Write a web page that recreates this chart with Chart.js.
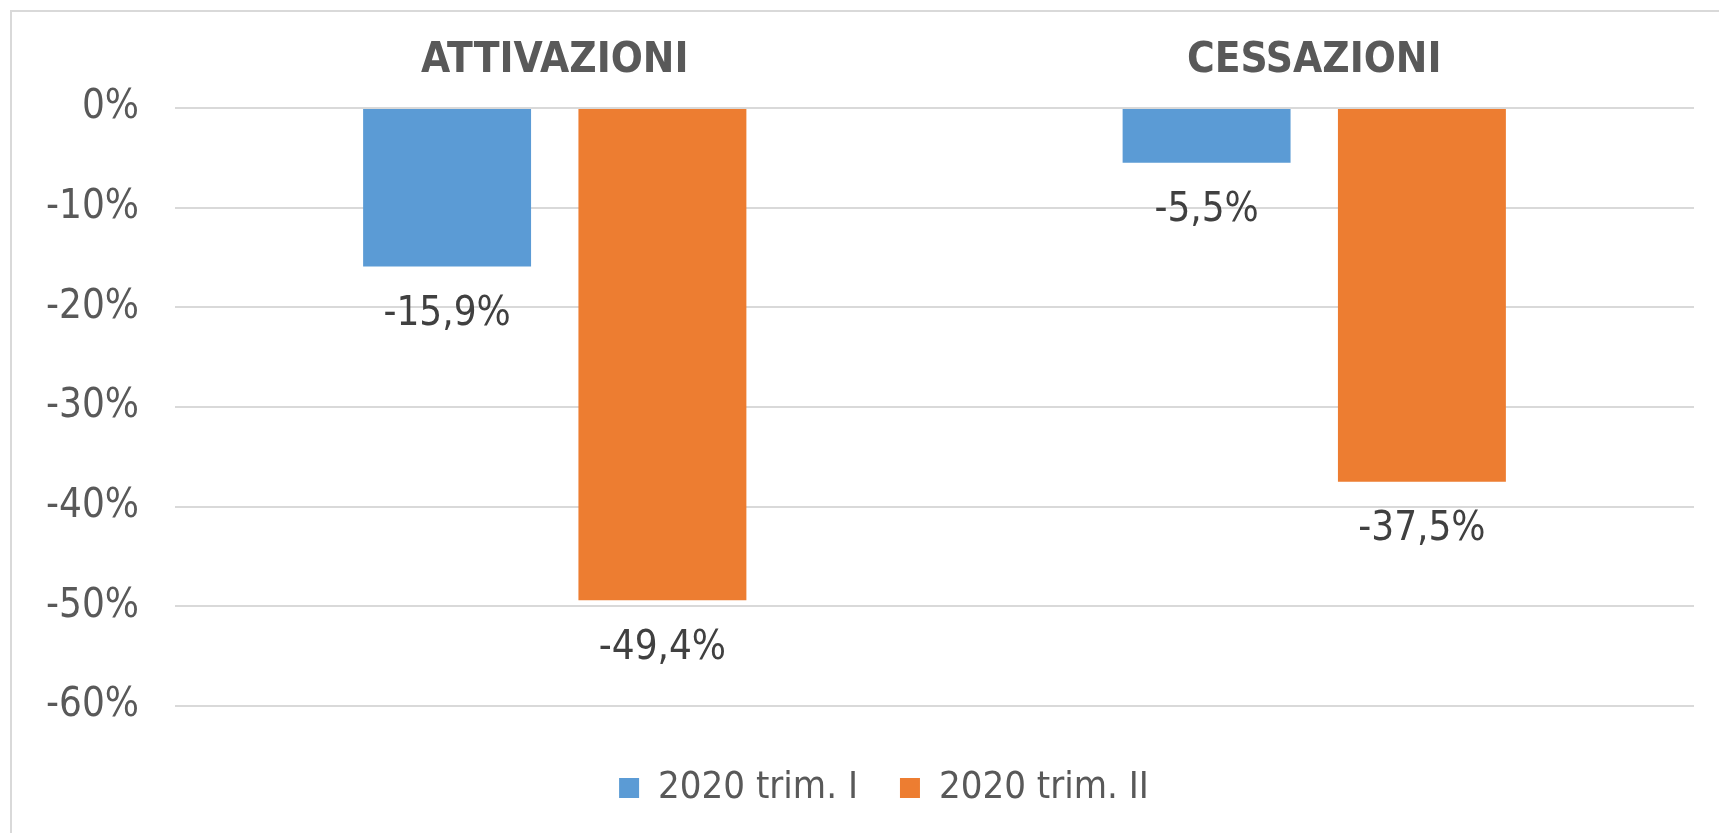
<!DOCTYPE html>
<html>
<head>
  <meta charset="UTF-8">
  <title>Attivazioni e cessazioni 2020</title>
  <script src="https://cdn.jsdelivr.net/npm/chart.js"></script>
  <style>
    html, body {
      margin: 0;
      padding: 0;
      background: white;
      overflow: hidden;
    }
    #frame {
      position: absolute;
      left: 10px;
      top: 10px;
      width: 2000px;
      height: 1000px;
      border: 2px solid #d9d9d9;
    }
    #wrap {
      position: absolute;
      left: 0;
      top: 0;
      width: 1719px;
      height: 833px;
    }
  </style>
</head>
<body>
  <div id="frame"></div>
  <div id="wrap"><canvas id="variazioni" width="1719" height="833"></canvas></div>

  <script>
    const categories = ['ATTIVAZIONI', 'CESSAZIONI'];
    const seriesNames = ['2020 trim. I', '2020 trim. II'];
    const trim1 = [-15.9, -5.5];
    const trim2 = [-49.4, -37.5];
    const yTicks = [0, -10, -20, -30, -40, -50, -60];

    const FONT = '"DejaVu Sans Condensed", "DejaVu Sans", sans-serif';
    const fmt = v => v.toFixed(1).replace('.', ',') + '%';

    // etichette dei valori sotto la fine di ogni barra
    const valueLabels = {
      id: 'valueLabels',
      afterDatasetsDraw(chart) {
        const ctx = chart.ctx;
        ctx.save();
        ctx.font = '40px ' + FONT;
        ctx.fillStyle = '#404040';
        ctx.textAlign = 'center';
        ctx.textBaseline = 'middle';
        chart.data.datasets.forEach((ds, i) => {
          chart.getDatasetMeta(i).data.forEach((bar, j) => {
            ctx.fillText(fmt(ds.data[j]), bar.x, bar.y + 48);
          });
        });
        ctx.restore();
      }
    };

    // la legenda è centrata un po' più a destra, come nell'originale
    const legendShift = {
      id: 'legendShift',
      afterLayout(chart) {
        chart.legend.left += 37;
        chart.legend.right += 37;
      }
    };

    const ctx = document.getElementById('variazioni').getContext('2d');
    new Chart(ctx, {
      type: 'bar',
      data: {
        labels: categories,
        datasets: [{
          label: seriesNames[0],
          data: trim1,
          backgroundColor: '#5b9bd5'
        }, {
          label: seriesNames[1],
          data: trim2,
          backgroundColor: '#ed7d31'
        }]
      },
      options: {
        responsive: false,
        animation: false,
        layout: { padding: { left: 0, right: 25, top: 0, bottom: 16 } },
        datasets: {
          bar: { categoryPercentage: 0.567, barPercentage: 0.78 }
        },
        scales: {
          x: {
            position: 'top',
            grid: { display: false, drawTicks: false },
            border: { display: false },
            ticks: {
              padding: 22,
              color: '#595959',
              font: { family: FONT, size: 42, weight: 'bold' }
            },
            afterFit: s => { s.height = 108; }
          },
          y: {
            min: -60,
            max: 0,
            afterBuildTicks: s => { s.ticks = yTicks.map(v => ({ value: v })); },
            grid: { color: '#d9d9d9', lineWidth: 2, drawTicks: false },
            border: { display: false },
            ticks: {
              padding: 36,
              color: '#595959',
              font: { family: FONT, size: 40 },
              callback: v => v + '%'
            },
            afterFit: s => { s.width = 175; }
          }
        },
        plugins: {
          legend: {
            position: 'bottom',
            title: { display: true, text: '', font: { size: 1 }, padding: { top: 0, bottom: 20 } },
            labels: {
              boxWidth: 20,
              boxHeight: 20,
              padding: 42,
              color: '#595959',
              font: { family: FONT, size: 38 }
            }
          },
          tooltip: { enabled: false }
        }
      },
      plugins: [valueLabels, legendShift]
    });
  </script>
</body>
</html>
